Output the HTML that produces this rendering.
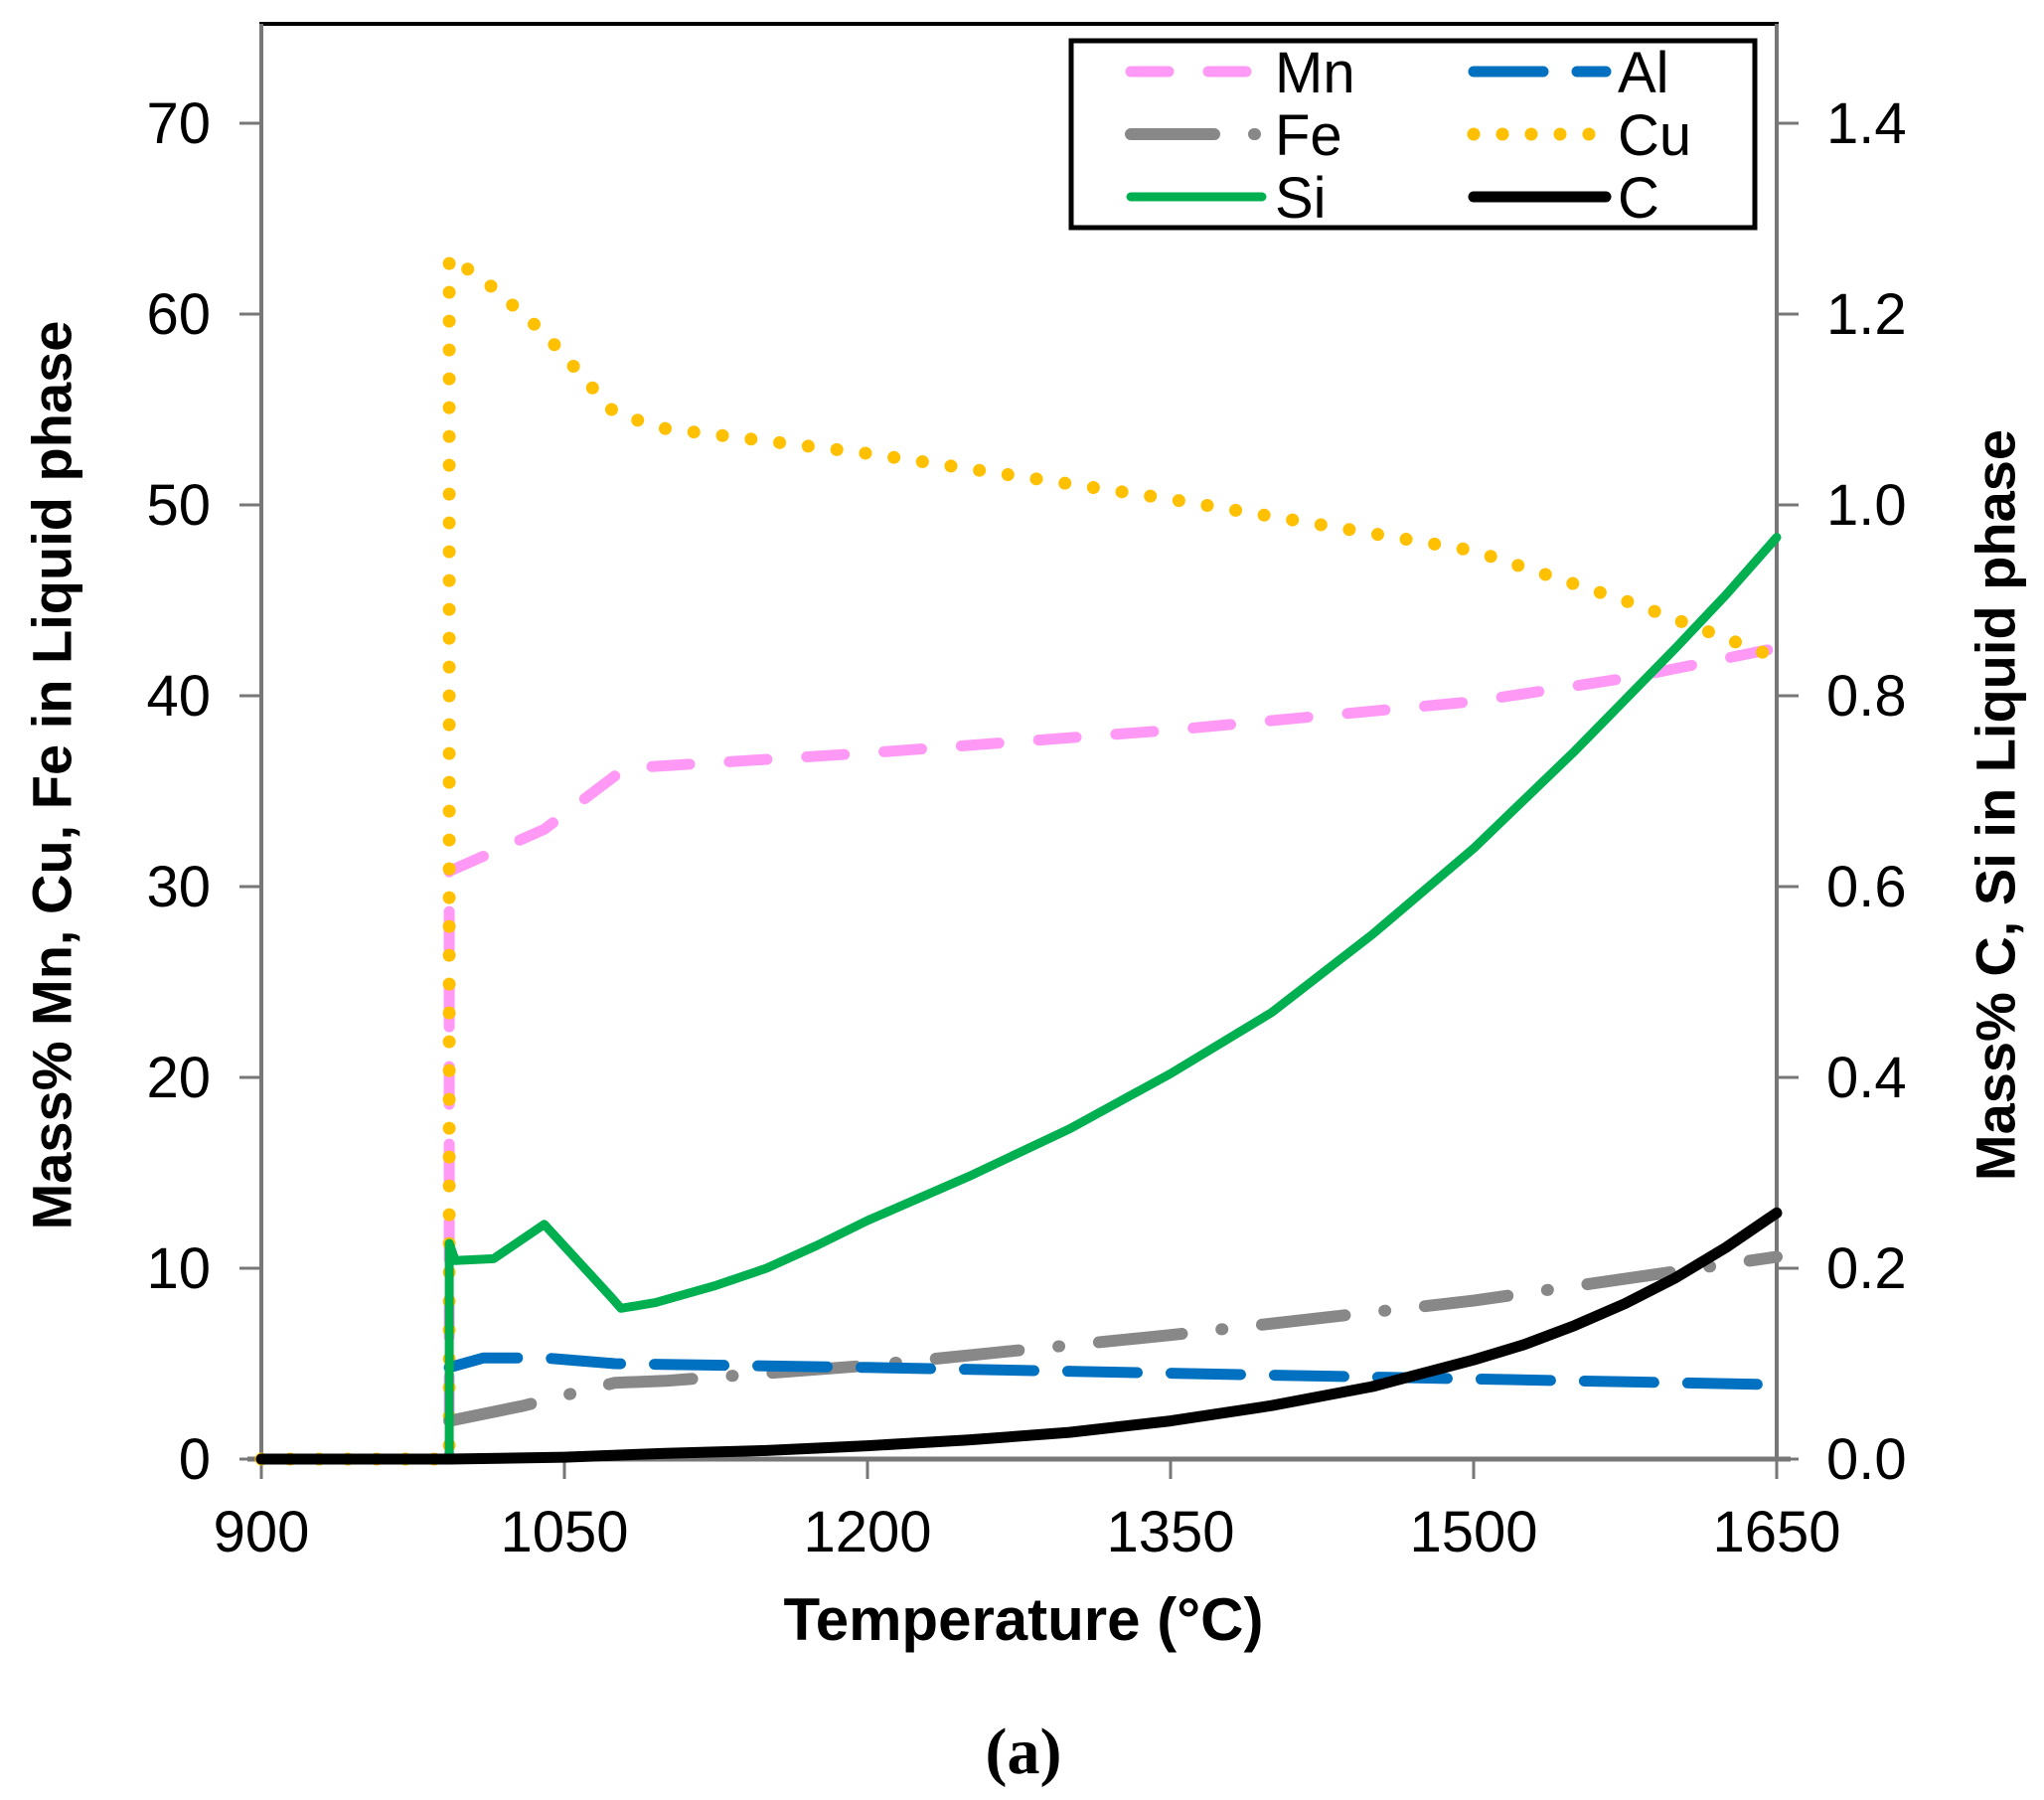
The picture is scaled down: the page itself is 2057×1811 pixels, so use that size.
<!DOCTYPE html>
<html><head><meta charset="utf-8"><style>
html,body{margin:0;padding:0;background:#fff;}
svg{display:block;font-family:"Liberation Sans",Arial,sans-serif;}
</style></head><body>
<svg id="chart" width="2057" height="1811" viewBox="0 0 2057 1811">
<g id="axes"></g>
<g id="series"></g>
<g id="legend"></g>
<text x="52" y="780" font-size="56" font-weight="bold" text-anchor="middle" dominant-baseline="central" transform="rotate(-90 52 780)">Mass% Mn, Cu, Fe in Liquid phase</text>
<text x="2008" y="810" font-size="56" font-weight="bold" text-anchor="middle" dominant-baseline="central" transform="rotate(-90 2008 810)">Mass% C, Si in Liquid phase</text>
<text x="1030" y="1650" font-size="60" font-weight="bold" text-anchor="middle">Temperature (°C)</text>
<text x="1030" y="1784" font-size="66" font-weight="bold" font-family="Liberation Serif, serif" text-anchor="middle">(a)</text>
</svg>
<script>
const xTicks = [900, 1050, 1200, 1350, 1500, 1650];
const yLeftTicks = [0, 10, 20, 30, 40, 50, 60, 70];
const yRightTicks = ["0.0", "0.2", "0.4", "0.6", "0.8", "1.0", "1.2", "1.4"];
const cuT = [900, 993, 993, 1010, 1040, 1075, 1100, 1200, 1350, 1500, 1580, 1650];
const cuV = [0, 0, 63, 61.8, 59, 54.8, 54, 52.7, 50.3, 47.6, 44.8, 42];
const mnT = [900, 993, 993, 1040, 1080, 1200, 1350, 1500, 1580, 1650];
const mnV = [0, 0, 30.8, 33, 36.2, 37, 38.2, 39.7, 41, 42.5];
const alT = [993, 1010, 1040, 1075, 1200, 1350, 1500, 1650];
const alV = [4.8, 5.3, 5.3, 5.0, 4.8, 4.5, 4.2, 3.9];
const feT = [993, 1030, 1075, 1100, 1200, 1350, 1500, 1650];
const feV = [2, 2.8, 4, 4.1, 4.9, 6.5, 8.3, 10.6];
const siT = [900, 993, 993, 996, 1015, 1040, 1073, 1078, 1095, 1125, 1150, 1175, 1200, 1250, 1300, 1350, 1400, 1450, 1500, 1550, 1600, 1625, 1650];
const siV = [0, 0, 0.226, 0.208, 0.21, 0.246, 0.17, 0.158, 0.164, 0.182, 0.2, 0.224, 0.25, 0.296, 0.346, 0.404, 0.468, 0.55, 0.64, 0.742, 0.85, 0.906, 0.966];
const cT = [900, 993, 1050, 1100, 1150, 1200, 1250, 1300, 1350, 1400, 1450, 1500, 1525, 1550, 1575, 1600, 1625, 1650];
const cV = [0, 0, 0.002, 0.006, 0.009, 0.014, 0.02, 0.028, 0.04, 0.056, 0.076, 0.104, 0.12, 0.14, 0.163, 0.19, 0.222, 0.258];

const NS = "http://www.w3.org/2000/svg";
const X0 = 263, X1 = 1788, Y0 = 1468, PY = 19.2, TOP = 24;
const xs = t => X0 + (t - 900) * (X1 - X0) / 750;
const yl = v => Y0 - v * PY;
const yr = v => Y0 - v * 50 * PY;
function mk(tag, attrs, parent) { const e = document.createElementNS(NS, tag); for (const k in attrs) e.setAttribute(k, attrs[k]); parent.appendChild(e); return e; }
const axes = document.getElementById('axes');
const ser = document.getElementById('series');
const leg = document.getElementById('legend');

let r = mk('rect', {x: X0, y: TOP, width: X1 - X0, height: Y0 - TOP, fill: 'none', stroke: '#000', 'stroke-width': 4}, axes);


let ax = mk('line', {x1: X0, y1: TOP, x2: X0, y2: Y0, stroke: '#777', 'stroke-width': 4}, axes);


ax = mk('line', {x1: X1, y1: TOP, x2: X1, y2: Y0, stroke: '#777', 'stroke-width': 4}, axes);


ax = mk('line', {x1: X0 - 14, y1: Y0, x2: X1 + 14, y2: Y0, stroke: '#777', 'stroke-width': 5}, axes);



xTicks.forEach(t => {
  const tk = mk('line', {x1: xs(t), y1: Y0, x2: xs(t), y2: Y0 + 20, stroke: '#777', 'stroke-width': 3}, axes);
  
  
  const tx = mk('text', {x: xs(t), y: Y0 + 93, 'font-size': 58, 'text-anchor': 'middle'}, axes);
  tx.textContent = t;
  
  
});
yLeftTicks.forEach(v => {
  const tk = mk('line', {x1: X0 - 22, y1: yl(v), x2: X0, y2: yl(v), stroke: '#777', 'stroke-width': 3}, axes);
  
  
  const tx = mk('text', {x: 212, y: yl(v) + 20, 'font-size': 58, 'text-anchor': 'end'}, axes);
  tx.textContent = v;
  
  
});
yRightTicks.forEach(s => {
  const v = parseFloat(s);
  const tk = mk('line', {x1: X1, y1: yr(v), x2: X1 + 22, y2: yr(v), stroke: '#777', 'stroke-width': 3}, axes);
  
  
  const tx = mk('text', {x: 1838, y: yr(v) + 20, 'font-size': 58}, axes);
  tx.textContent = s;
  
  
});

const styles = {
  Mn: {c: '#ff99f5', w: 11, d: '38 40', cap: 'round'},
  Al: {c: '#0070c0', w: 11, d: '70 34', cap: 'round'},
  Fe: {c: '#888888', w: 12, d: '84 40 1 40', cap: 'round'},
  Cu: {c: '#ffc000', w: 13, d: '0 29', cap: 'round'},
  Si: {c: '#00b050', w: 9, d: 'none', cap: 'round'},
  C: {c: '#000000', w: 11, d: 'none', cap: 'round'}
};
function drawLine(name, T, V, yf) {
  const s = styles[name];
  const d = T.map((t, i) => (i ? 'L' : 'M') + xs(t).toFixed(1) + ' ' + yf(V[i]).toFixed(1)).join(' ');
  const p = mk('path', {d: d, fill: 'none', stroke: s.c, 'stroke-width': s.w, 'stroke-dasharray': s.d, 'stroke-linecap': s.cap, 'stroke-linejoin': 'round'}, ser);
  
  
}
drawLine('Mn', mnT, mnV, yl);
drawLine('Cu', cuT, cuV, yl);
drawLine('Fe', feT, feV, yl);
drawLine('Al', alT, alV, yl);
drawLine('Si', siT, siV, yr);
drawLine('C', cT, cV, yr);

let lb = mk('rect', {x: 1078, y: 41, width: 688, height: 188, fill: '#fff', stroke: '#000', 'stroke-width': 5}, leg);


const legendItems = [['Mn', 1138, 1259, 1283, 72], ['Fe', 1138, 1265, 1283, 135], ['Si', 1138, 1270, 1283, 198],
                     ['Al', 1483, 1616, 1628, 72], ['Cu', 1483, 1616, 1628, 135], ['C', 1483, 1616, 1628, 198]];
legendItems.forEach(it => {
  const s = styles[it[0]];
  const g = mk('g', {}, leg);
  
  
  mk('line', {x1: it[1], y1: it[4], x2: it[2], y2: it[4], stroke: s.c, 'stroke-width': s.w, 'stroke-dasharray': s.d, 'stroke-linecap': 'round'}, g);
  const t = mk('text', {x: it[3], y: it[4] + 21, 'font-size': 58}, g);
  t.textContent = it[0];
});
</script>
</body></html>
